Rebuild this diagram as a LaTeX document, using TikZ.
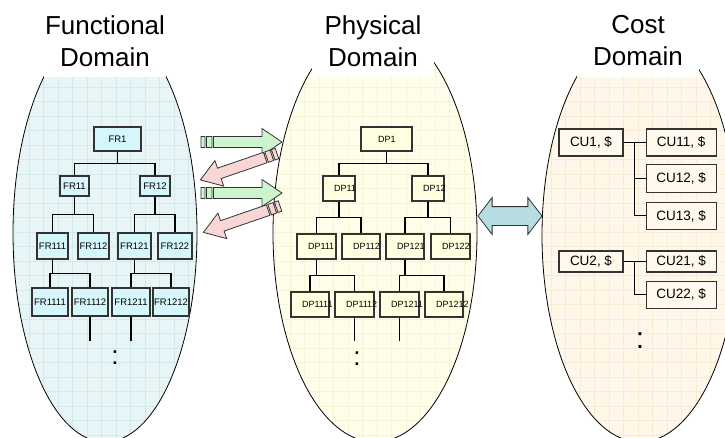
\documentclass[tikz,border=0pt]{standalone}
\usepackage{fontspec}
\setmainfont{Liberation Sans}
\usetikzlibrary{positioning,calc,shapes.arrows}

\definecolor{frback}{HTML}{E8F5F6}
\definecolor{frgrid}{HTML}{D2EAEC}
\definecolor{frfill}{HTML}{D5F6FB}
\definecolor{dpback}{HTML}{FEFEEA}
\definecolor{dpgrid}{HTML}{F5F5D5}
\definecolor{dpfill}{HTML}{FFFFE0}
\definecolor{cuback}{HTML}{FEF7EA}
\definecolor{cugrid}{HTML}{FAEAD2}
\definecolor{cufill}{HTML}{FFF8EC}
\definecolor{boxline}{HTML}{333333}
\definecolor{mapfill}{HTML}{CDF5CD}
\definecolor{backfill}{HTML}{F9D6D6}
\definecolor{costfill}{HTML}{B6DDE1}

\newcommand{\frfont}{\fontsize{9.5}{11}\selectfont}
\newcommand{\dpfont}{\fontsize{9}{11}\selectfont}
\newcommand{\cufont}{\fontsize{13.5}{16}\selectfont}
\newcommand{\titlefont}{\fontsize{26}{32}\selectfont}

\begin{document}
\begin{tikzpicture}[x=1pt,y=-1pt,
title/.style={fill=white,inner sep=0pt,minimum width=122pt,align=center,text depth=11pt,anchor=north,font=\titlefont},
frbox/.style={draw=boxline,fill=frfill,line width=1.2pt,inner sep=0pt,font=\frfont},
dpbox/.style={draw=boxline,fill=dpfill,line width=1.2pt,inner sep=0pt,align=left,font=\dpfont},
cubox/.style={draw=boxline,fill=cufill,line width=1.2pt,inner sep=0pt,minimum width=70pt,font=\cufont},
branch/.style={line width=1.5pt,to path={(\tikztostart) |- ($(\tikztostart)!.5!(\tikztotarget)$) -| (\tikztotarget)}},
more/.style={inner sep=0pt,font=\fontsize{26}{26}\selectfont},
stripe arrow/.pic={
  \path[pic actions] (0,-5.5) rectangle (4,5.5) (5.5,-5.5) rectangle (11,5.5)
    (12.5,-5.5) -- (61,-5.5) -- (61,-13.5) -- (81,0) -- (61,13.5) -- (61,5.5) -- (12.5,5.5) -- cycle;}]
\useasboundingbox (0,0) rectangle (725,437);

% the three domains
\begin{scope}
\clip (105,233) ellipse [x radius=92pt,y radius=209pt];
\fill[frback] (0,-10) rectangle (740,450);
\draw[frgrid,step=14.5pt,line width=0.5pt] (0,450) grid (740,-10);
\end{scope}
\draw[line width=0.8pt] (105,233) ellipse [x radius=92pt,y radius=209pt];
\begin{scope}
\clip (375,233) ellipse [x radius=102pt,y radius=209pt];
\fill[dpback] (0,-10) rectangle (740,450);
\draw[dpgrid,step=14.5pt,line width=0.5pt] (0,450) grid (740,-10);
\end{scope}
\draw[line width=0.8pt] (375,233) ellipse [x radius=102pt,y radius=209pt];
\begin{scope}
\clip (640,235) ellipse [x radius=98pt,y radius=207pt];
\fill[cuback] (0,-10) rectangle (740,450);
\draw[cugrid,step=14.5pt,line width=0.5pt] (0,450) grid (740,-10);
\end{scope}
\draw[line width=0.8pt] (640,235) ellipse [x radius=98pt,y radius=207pt];

\node (frtitle) [title] at (105,15.4) {Functional\\Domain};
\node (dptitle) [title] at (373,15.4) {Physical\\Domain};
\node (cutitle) [title] at (638,15.4) {Cost\\Domain};

% mapping arrows
\pic[draw=boxline,fill=mapfill,line width=0.8pt] at (201,142) {stripe arrow};
\pic[draw=boxline,fill=backfill,line width=0.8pt,rotate=199] at (277,153.5) {stripe arrow};
\pic[draw=boxline,fill=mapfill,line width=0.8pt] at (201,193) {stripe arrow};
\pic[draw=boxline,fill=backfill,line width=0.8pt,rotate=199] at (280,206) {stripe arrow};
\node (costlink) [double arrow,draw=boxline,fill=costfill,line width=0.8pt,inner sep=9pt,
  minimum height=64pt,double arrow head extend=9pt,double arrow tip angle=105] at (510,216) {};

% functional requirements
\node (FR1) [frbox,minimum width=47pt,minimum height=24pt] at (117.5,139) {FR1};
\node (FR11) [frbox,minimum width=29pt,minimum height=20pt] at (74.5,186) {FR11};
\node (FR12) [frbox,minimum width=30pt,minimum height=20pt] at (155,186) {FR12};
\node (FR111) [frbox,minimum width=31pt,minimum height=26pt] at (52.5,246) {FR111};
\node (FR112) [frbox,minimum width=31pt,minimum height=26pt] at (93.5,246) {FR112};
\node (FR121) [frbox,minimum width=33pt,minimum height=26pt] at (134.5,246) {FR121};
\node (FR122) [frbox,minimum width=34pt,minimum height=26pt] at (175,246) {FR122};
\node (FR1111) [frbox,minimum width=36pt,minimum height=28pt] at (50,302) {FR1111};
\node (FR1112) [frbox,minimum width=36pt,minimum height=28pt] at (90,302) {FR1112};
\node (FR1211) [frbox,minimum width=38pt,minimum height=28pt] at (131,302) {FR1211};
\node (FR1212) [frbox,minimum width=36pt,minimum height=28pt] at (171,302) {FR1212};
\draw[branch] (FR1.south) to (FR11.north) (FR1.south) to (FR12.north);
\draw[branch] (FR11.south) to (FR111.north) (FR11.south) to (FR112.north);
\draw[branch] (FR12.south) to (FR121.north) (FR12.south) to (FR122.north);
\draw[branch] (FR111.south) to (FR1111.north) (FR111.south) to (FR1112.north);
\draw[branch] (FR121.south) to (FR1211.north) (FR121.south) to (FR1212.north);
\coordinate (treeend) at (0,341);
\draw[line width=1.5pt] (FR1112.south) -- (FR1112.south |- treeend);
\draw[line width=1.5pt] (FR1211.south) -- (FR1211.south |- treeend);
\node (frmore) [more] at (115,358) {:};

% design parameters
\node (DP1) [dpbox,text width=51pt,minimum height=24pt] at (386.5,139) {\hspace*{17pt}DP1};
\node (DP11) [dpbox,text width=32pt,minimum height=25pt] at (339,188.5) {\hspace*{11pt}DP11};
\node (DP12) [dpbox,text width=32pt,minimum height=25pt] at (428,188.5) {\hspace*{11pt}DP12};
\node (DP111) [dpbox,text width=39pt,minimum height=25pt] at (316.5,246.5) {\hspace*{11pt}DP111};
\node (DP112) [dpbox,text width=38pt,minimum height=25pt] at (361,246.5) {\hspace*{11pt}DP112};
\node (DP121) [dpbox,text width=38pt,minimum height=25pt] at (405,246.5) {\hspace*{11pt}DP121};
\node (DP122) [dpbox,text width=39pt,minimum height=25pt] at (450.5,246.5) {\hspace*{11pt}DP122};
\node (DP1111) [dpbox,text width=38pt,minimum height=25pt] at (310,304.5) {\hspace*{11pt}DP1111};
\node (DP1112) [dpbox,text width=39pt,minimum height=25pt] at (354.5,304.5) {\hspace*{11pt}DP1112};
\node (DP1211) [dpbox,text width=39pt,minimum height=25pt] at (399.5,304.5) {\hspace*{11pt}DP1211};
\node (DP1212) [dpbox,text width=38pt,minimum height=25pt] at (444,304.5) {\hspace*{11pt}DP1212};
\draw[branch] (DP1.south) to (DP11.north) (DP1.south) to (DP12.north);
\draw[branch] (DP11.south) to (DP111.north) (DP11.south) to (DP112.north);
\draw[branch] (DP12.south) to (DP121.north) (DP12.south) to (DP122.north);
\draw[branch] (DP111.south) to (DP1111.north) (DP111.south) to (DP1112.north);
\draw[branch] (DP121.south) to (DP1211.north) (DP121.south) to (DP1212.north);
\draw[line width=1.5pt] (DP1112.south) -- (DP1112.south |- treeend);
\draw[line width=1.5pt] (DP1211.south) -- (DP1211.south |- treeend);
\node (dpmore) [more] at (357,358.5) {:};

% cost units
\node (CU1) [cubox,minimum width=64pt,minimum height=27pt] at (591,142.5) {CU1, \$};
\node (CU11) [cubox,minimum height=27pt,right=22pt of CU1] {CU11, \$};
\node (CU12) [cubox,minimum height=28pt,below=7pt of CU11] {CU12, \$};
\node (CU13) [cubox,minimum height=27pt,below=9pt of CU12] {CU13, \$};
\node (CU2) [cubox,minimum width=64pt,minimum height=21pt] at (591,261.5) {CU2, \$};
\node (CU21) [cubox,minimum height=21pt,right=22pt of CU2] {CU21, \$};
\node (CU22) [cubox,minimum height=27pt,below=8pt of CU21] {CU22, \$};
\coordinate (cusplit1) at ($(CU1.east)!.5!(CU11.west)$);
\coordinate (cusplit2) at ($(CU2.east)!.5!(CU21.west)$);
\draw[line width=1pt] (CU1) -- (CU11) (cusplit1) |- (CU12) (cusplit1) |- (CU13);
\draw[line width=1pt] (CU2) -- (CU21) (cusplit2) |- (CU22);
\node (cumore) [more,font=\fontsize{30}{30}\selectfont] at (640,341) {:};
\end{tikzpicture}
\end{document}
